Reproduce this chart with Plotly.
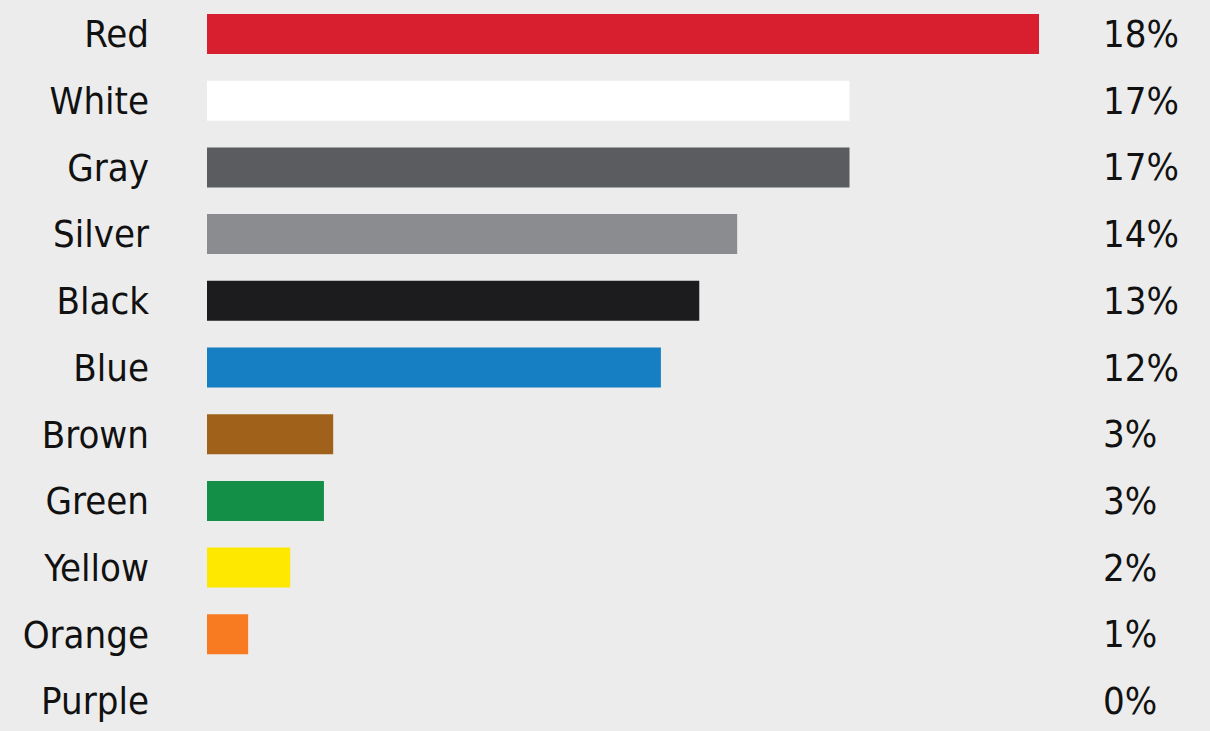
import plotly.graph_objects as go

categories = ["Red", "White", "Gray", "Silver", "Black", "Blue", "Brown", "Green", "Yellow", "Orange", "Purple"]
bar_values = [18.0, 13.9, 13.9, 11.47, 10.65, 9.82, 2.73, 2.53, 1.80, 0.89, 0.0]
pct_labels = ["18%", "17%", "17%", "14%", "13%", "12%", "3%", "3%", "2%", "1%", "0%"]
bar_colors = ["#d71f30", "#ffffff", "#5b5c60", "#8b8c90", "#1c1b1d", "#167fc3",
              "#a0621a", "#138f47", "#ffe800", "#f87a21", "#7b3f98"]

FONT = "DejaVu Sans Condensed, DejaVu Sans"
BG = "#ececec"

fig = go.Figure()
fig.add_trace(go.Bar(
    y=list(range(len(categories))),
    x=bar_values,
    orientation="h",
    width=0.6,
    marker=dict(color=bar_colors, line=dict(width=0)),
    hoverinfo="skip",
))

for i, t in enumerate(pct_labels):
    fig.add_annotation(x=19.345, y=i, xref="x", yref="y", text=t, showarrow=False,
                       xanchor="left", yanchor="middle",
                       font=dict(family=FONT, size=38, color="#111111"))

fig.update_layout(
    width=1210, height=731,
    margin=dict(l=207, r=0, t=0, b=0),
    paper_bgcolor=BG, plot_bgcolor=BG,
    showlegend=False,
    bargap=0.4,
    xaxis=dict(range=[0, 1003 / (832 / 18)], visible=False, fixedrange=True),
    yaxis=dict(
        range=[10.45, -0.51],
        tickmode="array",
        tickvals=list(range(len(categories))),
        ticktext=categories,
        showgrid=False, zeroline=False, showline=False,
        ticks="", ticklabelstandoff=57,
        tickfont=dict(family=FONT, size=38, color="#111111"),
    ),
)

fig.write_html("out.html")
